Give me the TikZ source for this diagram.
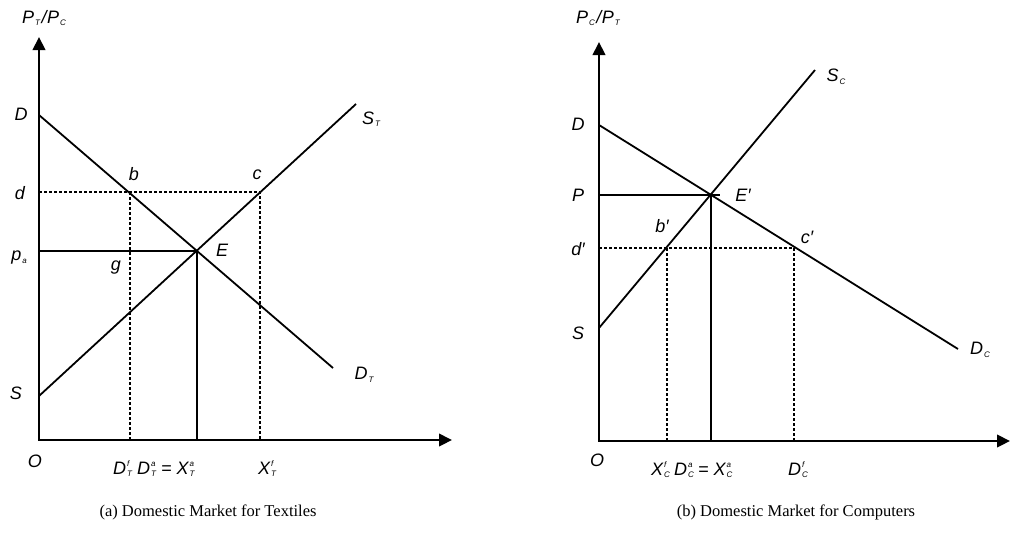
\documentclass[tikz,border=0pt]{standalone}
\usepackage{fontspec}
\setmainfont{Liberation Serif}
\newfontfamily\labfont{Liberation Sans}
\usetikzlibrary{arrows.meta}
\newcommand\lsub[1]{\hspace{1pt}\raisebox{-2.5pt}{\fontsize{8}{8}\selectfont #1}}
\newcommand\lsup[1]{\hspace{1pt}\raisebox{7.5pt}{\fontsize{8}{8}\selectfont #1}}
\newcommand\lsubsup[2]{\makebox[6pt][l]{\lsub{#1}}\hspace{-6pt}\makebox[6pt][l]{\lsup{#2}}}
\begin{document}
\begin{tikzpicture}[x=1pt,y=-1pt,
  lbl/.style={font=\labfont\itshape\fontsize{18}{20}\selectfont, inner sep=0pt},
  axes/.style={line width=2.1pt, {Triangle[length=13pt,width=12.5pt]}-{Triangle[length=13pt,width=12.5pt]}},
  curve/.style={line width=1.8pt},
  guide/.style={line width=2pt, dash pattern=on 2.5pt off 2.5pt},
  captxt/.style={font=\fontsize{16.5}{18}\selectfont, inner sep=0pt}]
\useasboundingbox (0,0) rectangle (1011,536);
% ---------- left panel ----------
\coordinate (O1) at (39,440);
\coordinate (Ytop1) at (39,37);
\coordinate (Xend1) at (452,440);
\draw[axes] (Ytop1) -- (O1) -- (Xend1);
\coordinate (D1) at (39,115);
\coordinate (DT) at (333,368);
\coordinate (S1) at (39,396);
\coordinate (ST) at (356,104);
\coordinate (E1) at (intersection of D1--DT and S1--ST);
\coordinate (d1) at (39,192);
\coordinate (b1) at (130,192);
\coordinate (c1) at (260,192);
\draw[curve] (D1) -- (DT);
\draw[curve] (S1) -- (ST);
\draw[curve] (E1 -| O1) -- (E1) -- (E1 |- O1);
\draw[guide] (d1) -- (c1) -- (c1 |- O1);
\draw[guide] (b1) -- (b1 |- O1);
\node[lbl] (ly1) at (44,18) {P\lsub{T}\hspace{1.5pt}/\hspace{0.5pt}P\lsub{C}};
\node[lbl] (lD1) at (21,114) {D};
\node[lbl] (ld1) at (20,193) {d};
\node[lbl] (lpa) at (19,258) {p\lsub{a}};
\node[lbl] (lS1) at (16,393) {S};
\node[lbl] (lO1) at (35,461) {O};
\node[lbl] (lb1) at (134,174) {b};
\node[lbl] (lc1) at (257,175) {c};
\node[lbl] (lE1) at (222,250) {E};
\node[lbl] (lg1) at (116,268) {g};
\node[lbl] (lST) at (371,119) {S\lsub{T}};
\node[lbl] (lDT) at (364,375) {D\lsub{T}};
\node[lbl, anchor=base west] (lx1a) at (113,474) {D\lsubsup{T}{f} D\lsubsup{T}{a} = X\lsubsup{T}{a}};
\node[lbl, anchor=base west] (lx1b) at (258,474) {X\lsubsup{T}{f}};
% ---------- right panel ----------
\coordinate (O2) at (599,441);
\coordinate (Ytop2) at (599,42);
\coordinate (Xend2) at (1010,441);
\draw[axes] (Ytop2) -- (O2) -- (Xend2);
\coordinate (D2) at (599,125);
\coordinate (DC) at (958,349);
\coordinate (S2) at (599,328);
\coordinate (SC) at (815,70);
\coordinate (E2) at (intersection of D2--DC and S2--SC);
\coordinate (d2) at (599,248);
\coordinate (b2) at (667,248);
\coordinate (c2) at (794,248);
\draw[curve] (D2) -- (DC);
\draw[curve] (S2) -- (SC);
\draw[curve] (E2 -| O2) -- ([xshift=9pt]E2);
\draw[curve] (E2) -- (E2 |- O2);
\draw[guide] (d2) -- (c2) -- (c2 |- O2);
\draw[guide] (b2) -- (b2 |- O2);
\node[lbl] (ly2) at (598,18) {P\lsub{C}\hspace{1.5pt}/\hspace{0.5pt}P\lsub{T}};
\node[lbl] (lD2) at (578,124) {D};
\node[lbl] (lP2) at (578,195) {P};
\node[lbl] (ld2) at (578,249) {d′};
\node[lbl] (lS2) at (578,333) {S};
\node[lbl] (lO2) at (597,460) {O};
\node[lbl] (lb2) at (662,226) {b′};
\node[lbl] (lc2) at (807,237) {c′};
\node[lbl] (lE2) at (743,195) {E′};
\node[lbl] (lSC) at (836,77) {S\lsub{C}};
\node[lbl] (lDC) at (980,350) {D\lsub{C}};
\node[lbl, anchor=base west] (lx2a) at (651,475) {X\lsubsup{C}{f} D\lsubsup{C}{a} = X\lsubsup{C}{a}};
\node[lbl, anchor=base west] (lx2b) at (788,475) {D\lsubsup{C}{f}};
% ---------- captions ----------
\node[captxt] (capa) at (208,512) {(a) Domestic Market for Textiles};
\node[captxt] (capb) at (796,512) {(b) Domestic Market for Computers};
\end{tikzpicture}
\end{document}
